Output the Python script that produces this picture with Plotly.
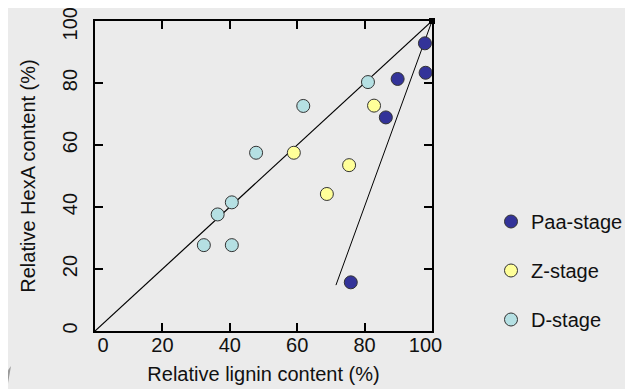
import plotly.graph_objects as go

# Data
paa_x = [97.9, 98.1, 89.8, 86.3, 75.9]
paa_y = [92.8, 83.3, 81.3, 68.9, 15.7]
z_x = [82.8, 59.0, 75.4, 68.8]
z_y = [72.7, 57.5, 53.5, 44.2]
d_x = [81.0, 61.8, 47.8, 40.6, 36.4, 32.3, 40.6]
d_y = [80.3, 72.6, 57.5, 41.5, 37.6, 27.7, 27.7]
diag_x = [0, 100]
diag_y = [0, 100]
trend_x = [71.5, 100]
trend_y = [14.8, 100]
corner_x = [100]
corner_y = [100]
tick_vals = [0, 20, 40, 60, 80, 100]
tick_text = ["0", "20", "40", "60", "80", "100"]

FONT = "Liberation Sans, Arial, sans-serif"
FS = 20
TXT = "#111111"
OFF = 8  # page body margin offset
W, H = 633 - OFF, 389 - OFF
PW, PH = 337, 310
L, T = 95 - OFF, 21 - OFF
R = W - L - PW
B = H - T - PH
X_PX_UNIT = PW / 100.0
Y_PX_UNIT = PH / 100.0

# small inward nudges (px) of the end labels, as in the reference
x_lab_pos = [v + d / X_PX_UNIT for v, d in zip(tick_vals, [8, 0, 0, 0, 0, -6.5])]
y_lab_pos = [v + d / Y_PX_UNIT for v, d in zip(tick_vals, [0, 0, 0, 0, 0, -5.7])]

fig = go.Figure()
fig.add_trace(go.Scatter(x=diag_x, y=diag_y, mode="lines",
                         line=dict(color="black", width=1.2), showlegend=False, hoverinfo="skip"))
fig.add_trace(go.Scatter(x=trend_x, y=trend_y, mode="lines",
                         line=dict(color="black", width=1), showlegend=False, hoverinfo="skip"))
fig.add_trace(go.Scatter(x=corner_x, y=corner_y, mode="markers",
                         marker=dict(symbol="square", size=6, color="black"),
                         showlegend=False, cliponaxis=False))

mk_line = dict(color="#333333", width=1)
fig.add_trace(go.Scatter(x=paa_x, y=paa_y, mode="markers", name="Paa-stage", legendgroup="a",
                         marker=dict(size=13, color="#333399", line=mk_line), cliponaxis=False))
fig.add_trace(go.Scatter(x=z_x, y=z_y, mode="markers", name="Z-stage", legendgroup="b",
                         marker=dict(size=13, color="#ffff99", line=mk_line), cliponaxis=False))
fig.add_trace(go.Scatter(x=d_x, y=d_y, mode="markers", name="D-stage", legendgroup="c",
                         marker=dict(size=13, color="#b5e0e3", line=mk_line), cliponaxis=False))
# empty trace on the label-only overlay axes
fig.add_trace(go.Scatter(x=[None], y=[None], xaxis="x2", yaxis="y2", mode="markers",
                         showlegend=False, hoverinfo="skip"))

tfont = dict(family=FONT, size=FS, color=TXT)
frame = dict(range=[0, 100], tickvals=tick_vals, ticks="inside", ticklen=8, tickwidth=2,
             tickcolor="black", showline=True, linecolor="black", linewidth=2,
             mirror="ticks", showgrid=False, zeroline=False, automargin=False,
             showticklabels=False)
labels = dict(range=[0, 100], ticks="", showline=False, showgrid=False, zeroline=False,
              automargin=False, tickfont=tfont, ticklabeloverflow="allow")

fig.update_layout(
    xaxis=dict(**frame),
    yaxis=dict(**frame),
    xaxis2=dict(**labels, overlaying="x", anchor="y2", side="bottom",
                tickvals=x_lab_pos, ticktext=tick_text,
                title=dict(text="Relative lignin content (%)", standoff=11, font=tfont)),
    yaxis2=dict(**labels, overlaying="y", anchor="x2", side="left",
                tickvals=y_lab_pos, ticktext=tick_text,
                tickangle=-90, ticklabelstandoff=13,
                title=dict(text="Relative HexA content (%)", standoff=18, font=tfont)),
)

def px(x):
    # viewport pixel -> paper x
    return (x - OFF - L) / PW

def py(y):
    # viewport pixel -> paper y
    return (H - B - (y - OFF)) / PH

fig.add_shape(type="path", xref="paper", yref="paper",
              path=f"M {px(0)} {py(389)} L {px(0)} {py(382)} L {px(11)} {py(366)} L {px(7)} {py(389)} Z",
              fillcolor="#9a9a9a", line=dict(width=0), layer="below")

fig.update_layout(
    width=W, height=H,
    margin=dict(l=L, r=R, t=T, b=B, autoexpand=False),
    paper_bgcolor="#ebebeb", plot_bgcolor="rgba(0,0,0,0)",
    font=dict(family=FONT, size=FS, color=TXT),
    legend=dict(x=px(491), y=py(202), xanchor="left", yanchor="top",
                bgcolor="rgba(0,0,0,0)", tracegroupgap=20,
                font=tfont, itemwidth=30),
    showlegend=True,
)

fig.write_html("out.html")
